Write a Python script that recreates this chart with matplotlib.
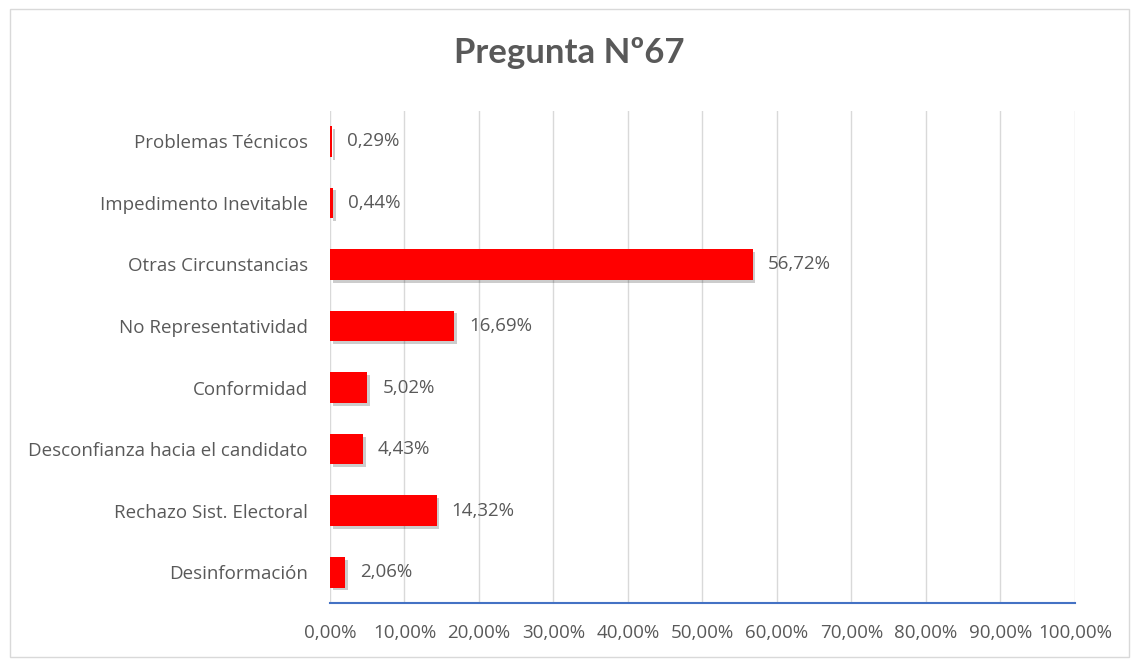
import matplotlib
matplotlib.use('Agg')
import matplotlib.pyplot as plt
import matplotlib.patheffects as pe
from matplotlib.patches import Rectangle

# datos (de arriba hacia abajo)
categorias = ['Problemas Técnicos', 'Impedimento Inevitable', 'Otras Circunstancias',
              'No Representatividad', 'Conformidad', 'Desconfianza hacia el candidato',
              'Rechazo Sist. Electoral', 'Desinformación']
valores = [0.29, 0.44, 56.72, 16.69, 5.02, 4.43, 14.32, 2.06]
ticks_x = [0, 10, 20, 30, 40, 50, 60, 70, 80, 90, 100]

plt.rcParams['font.family'] = ['Open Sans', 'DejaVu Sans']
gris = '#595959'
fs = 13.5

fig = plt.figure(figsize=(11.39, 6.6), dpi=100)
ax = fig.add_axes([0.2897, 0.0864, 0.6541, 0.746])

y = list(range(len(categorias)))[::-1]
bars = ax.barh(y, valores, height=0.5, color='#ff0000', zorder=3)
for b in bars:
    b.set_path_effects([pe.SimplePatchShadow(offset=(2, -2), shadow_rgbFace='#000000', alpha=0.2),
                        pe.Normal()])

for yi, v in zip(y, valores):
    ax.text(v + 2.0, yi, f'{v:.2f}'.replace('.', ',') + '%', va='center', ha='left',
            fontsize=fs, color=gris)

ax.set_xlim(0, 100)
ax.set_ylim(-0.5, len(categorias) - 0.5)
ax.set_xticks(ticks_x)
ax.set_xticklabels([f'{t:.2f}'.replace('.', ',') + '%' for t in ticks_x], fontsize=fs, color=gris)
ax.set_yticks(y)
ax.set_yticklabels(categorias, fontsize=fs, color=gris)
ax.tick_params(axis='both', length=0)
ax.tick_params(axis='x', pad=15)
ax.tick_params(axis='y', pad=16)

ax.grid(axis='x', color='#d9d9d9', linewidth=1, zorder=0)
for s in ['top', 'right', 'left']:
    ax.spines[s].set_visible(False)
ax.spines['bottom'].set_color('#4472c4')
ax.spines['bottom'].set_linewidth(1.5)

fig.text(0.5, 0.92, 'Pregunta Nº67', ha='center', va='center', fontsize=25,
         fontweight='bold', color=gris, family=['Lato', 'DejaVu Sans'])

fig.patches.append(Rectangle((0.009, 0.005), 0.982, 0.982, transform=fig.transFigure,
                             fill=False, edgecolor='#d9d9d9', linewidth=1))

fig.savefig('out.png', dpi=100)
